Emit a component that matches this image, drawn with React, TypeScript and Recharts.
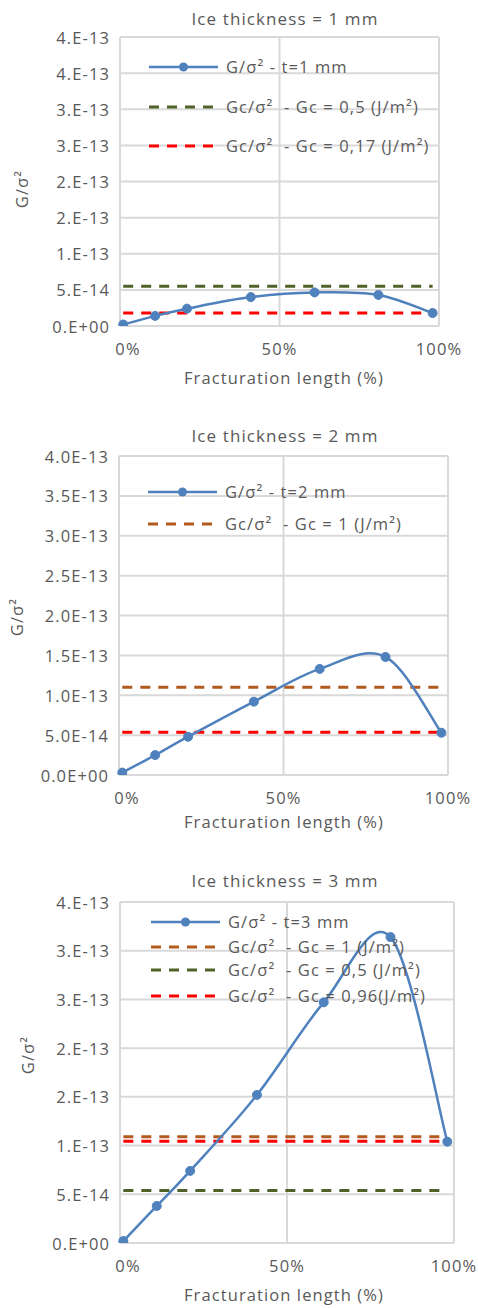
import React from "react"
import { LineChart, Line, XAxis, YAxis, CartesianGrid } from "recharts"

// fracture positions (% of length), shared by the three tests
const xs = [1, 11, 21, 41, 61, 81, 98]

// G/sigma^2 for each ice thickness
const g1mm = [2e-15, 1.4e-14, 2.4e-14, 4.0e-14, 4.65e-14, 4.3e-14, 1.8e-14]
const g2mm = [3e-15, 2.5e-14, 4.8e-14, 9.2e-14, 13.3e-14, 14.8e-14, 5.3e-14]
const g3mm = [2e-15, 3.8e-14, 7.4e-14, 15.2e-14, 24.7e-14, 31.4e-14, 10.4e-14]

// critical thresholds Gc/sigma^2
const gc1mm = [5.5e-14, 1.8e-14]
const gc2mm = [1.1e-13, 5.35e-14]
const gc3mm = [1.09e-13, 5.4e-14, 1.045e-13]

const xTicks = [0, 50, 100]
const xTickLabels = ["0%", "50%", "100%"]

const yTicks4 = [0, 5e-14, 1e-13, 1.5e-13, 2e-13, 2.5e-13, 3e-13, 3.5e-13, 4e-13]
const yTicks35 = [0, 5e-14, 1e-13, 1.5e-13, 2e-13, 2.5e-13, 3e-13, 3.5e-13]
const yLabels1 = ["0.E+00", "5.E-14", "1.E-13", "2.E-13", "2.E-13", "3.E-13", "3.E-13", "4.E-13", "4.E-13"]
const yLabels2 = ["0.0E+00", "5.0E-14", "1.0E-13", "1.5E-13", "2.0E-13", "2.5E-13", "3.0E-13", "3.5E-13", "4.0E-13"]
const yLabels3 = ["0.E+00", "5.E-14", "1.E-13", "2.E-13", "2.E-13", "3.E-13", "3.E-13", "4.E-13"]

const FONT = '"Open Sans", sans-serif'
const TEXT = "#595959"
const GRID = "#D9D9D9"
const BLUE = "#4F81BD"
const GREEN = "#4F6228"
const BROWN = "#B35A1F"
const RED = "#FF0000"
const FS = 16.5
const LS = 1.1

// Excel-like smoothing (Catmull-Rom through the points)
const excelSmooth = (context: any) => {
  let pts: number[][] = []
  return {
    areaStart() {},
    areaEnd() {},
    lineStart() {
      pts = []
    },
    lineEnd() {
      const n = pts.length
      if (!n) return
      context.moveTo(pts[0][0], pts[0][1])
      for (let i = 0; i < n - 1; i++) {
        const p0 = pts[Math.max(i - 1, 0)]
        const p1 = pts[i]
        const p2 = pts[i + 1]
        const p3 = pts[Math.min(i + 2, n - 1)]
        context.bezierCurveTo(
          p1[0] + (p2[0] - p0[0]) / 6, p1[1] + (p2[1] - p0[1]) / 6,
          p2[0] - (p3[0] - p1[0]) / 6, p2[1] - (p3[1] - p1[1]) / 6,
          p2[0], p2[1]
        )
      }
    },
    point(x: number, y: number) {
      pts.push([x, y])
    },
  }
}

interface Series {
  key: string
  name: string
  color: string
  dashed?: boolean
  inLegend?: boolean
}

const buildRows = (g: number[], gc: number[]) =>
  xs.map((x, i) => {
    const row: any = { x, g: g[i] }
    gc.forEach((v, j) => (row["gc" + j] = v))
    return row
  })

const XTick = (props: any) => {
  const { x, y, index } = props
  return (
    <text x={x + (index === 0 ? 8 : 0)} y={y + 22} textAnchor="middle" dominantBaseline="central"
      fontFamily={FONT} fontSize={FS} fill={TEXT} style={{ letterSpacing: LS }}>
      {xTickLabels[index]}
    </text>
  )
}

const makeYTick = (labels: string[]) => (props: any) => {
  const { x, y, index } = props
  return (
    <text x={x - 10} y={y} textAnchor="end" dominantBaseline="central"
      fontFamily={FONT} fontSize={FS} fill={TEXT} style={{ letterSpacing: LS }}>
      {labels[index]}
    </text>
  )
}

const textStyle: React.CSSProperties = {
  position: "absolute",
  fontFamily: FONT,
  fontSize: FS,
  letterSpacing: LS,
  color: TEXT,
  lineHeight: 1,
  whiteSpace: "pre",
}

function Panel({ top, height, plot, title, rows, series, yTicks, yLabels, yMax, legend, titleY, xTitleY, yTitle }: any) {
  const w = 478
  const legendItems = (series as Series[]).filter(s => s.inLegend)
  const drawOrder = [...(series as Series[]).filter(s => s.dashed), ...(series as Series[]).filter(s => !s.dashed)]
  return (
    <div style={{ position: "absolute", left: 0, top, width: w, height }}>
      <LineChart width={w} height={height} data={rows}
        margin={{ top: plot.top, right: w - plot.right, left: 0, bottom: 0 }}>
        <CartesianGrid stroke={GRID} strokeWidth={2} />
        <XAxis dataKey="x" type="number" domain={[0, 100]} ticks={xTicks} interval={0}
          height={height - plot.bottom} tickSize={0} tickMargin={0}
          axisLine={{ stroke: GRID, strokeWidth: 2 }} tick={<XTick />} />
        <YAxis type="number" domain={[0, yMax]} ticks={yTicks} interval={0} allowDataOverflow
          width={plot.left} tickSize={0} tickMargin={0}
          axisLine={{ stroke: GRID, strokeWidth: 2 }} tick={makeYTick(yLabels)} />
        {drawOrder.map(s =>
          s.dashed ? (
            <Line key={s.key} dataKey={s.key} name={s.name} type="linear" stroke={s.color}
              strokeWidth={3} strokeDasharray="10 8" dot={false} activeDot={false}
              isAnimationActive={false} />
          ) : (
            <Line key={s.key} dataKey={s.key} name={s.name} type={excelSmooth as any} stroke={s.color}
              strokeWidth={2.5} dot={{ r: 4.5, fill: s.color, stroke: s.color, strokeWidth: 1 }}
              activeDot={false} isAnimationActive={false} />
          )
        )}
      </LineChart>

      <div style={{ ...textStyle, left: 285, top: titleY, transform: "translate(-50%, -50%)", fontSize: FS + 0.5 }}>{title}</div>
      <div style={{ ...textStyle, left: 284, top: xTitleY, transform: "translate(-50%, -50%)" }}>Fracturation length (%)</div>
      <div style={{ ...textStyle, left: yTitle[0], top: yTitle[1], transform: "translate(-50%, -50%) rotate(-90deg)" }}>G/σ²</div>

      {legendItems.map((s, i) => {
        const y = legend.rows[i]
        return (
          <React.Fragment key={s.key}>
            <svg style={{ position: "absolute", left: legend.x0, top: y - 6 }} width={legend.x1 - legend.x0} height={12}>
              <line x1={0} y1={6} x2={legend.x1 - legend.x0} y2={6} stroke={s.color}
                strokeWidth={s.dashed ? 3 : 2.5} strokeDasharray={s.dashed ? "10 8" : undefined} />
              {!s.dashed && <circle cx={(legend.x1 - legend.x0) / 2} cy={6} r={4.5} fill={s.color} />}
            </svg>
            <div style={{ ...textStyle, left: legend.tx, top: y, transform: "translateY(-50%)" }}>{s.name}</div>
          </React.Fragment>
        )
      })}
    </div>
  )
}

const series1: Series[] = [
  { key: "g", name: "G/σ² - t=1 mm", color: BLUE, inLegend: true },
  { key: "gc0", name: "Gc/σ²  - Gc = 0,5 (J/m²)", color: GREEN, dashed: true, inLegend: true },
  { key: "gc1", name: "Gc/σ²  - Gc = 0,17 (J/m²)", color: RED, dashed: true, inLegend: true },
]
const series2: Series[] = [
  { key: "g", name: "G/σ² - t=2 mm", color: BLUE, inLegend: true },
  { key: "gc0", name: "Gc/σ²  - Gc = 1 (J/m²)", color: BROWN, dashed: true, inLegend: true },
  { key: "gc1", name: "Gc/σ²  - Gc = 0,5 (J/m²)", color: RED, dashed: true },
]
const series3: Series[] = [
  { key: "g", name: "G/σ² - t=3 mm", color: BLUE, inLegend: true },
  { key: "gc0", name: "Gc/σ²  - Gc = 1 (J/m²)", color: BROWN, dashed: true, inLegend: true },
  { key: "gc1", name: "Gc/σ²  - Gc = 0,5 (J/m²)", color: GREEN, dashed: true, inLegend: true },
  { key: "gc2", name: "Gc/σ²  - Gc = 0,96(J/m²)", color: RED, dashed: true, inLegend: true },
]

export default function App() {
  return (
    <div style={{ position: "absolute", left: 0, top: 0, width: 478, height: 1308, background: "#fff" }}>
      <Panel top={0} height={400} title="Ice thickness = 1 mm"
        plot={{ left: 120, right: 439, top: 37, bottom: 326 }}
        rows={buildRows(g1mm, gc1mm)} series={series1} yTicks={yTicks4} yLabels={yLabels1} yMax={4e-13}
        legend={{ x0: 149, x1: 218, tx: 226, rows: [67, 107, 146] }}
        titleY={18} xTitleY={378} yTitle={[22, 189]} />
      <Panel top={400} height={440} title="Ice thickness = 2 mm"
        plot={{ left: 119, right: 448, top: 56, bottom: 375 }}
        rows={buildRows(g2mm, gc2mm)} series={series2} yTicks={yTicks4} yLabels={yLabels2} yMax={4e-13}
        legend={{ x0: 148, x1: 217, tx: 225, rows: [92, 124] }}
        titleY={35} xTitleY={422} yTitle={[17, 217]} />
      <Panel top={840} height={468} title="Ice thickness = 3 mm"
        plot={{ left: 120, right: 454, top: 62, bottom: 403 }}
        rows={buildRows(g3mm, gc3mm)} series={series3} yTicks={yTicks35} yLabels={yLabels3} yMax={3.5e-13}
        legend={{ x0: 151, x1: 220, tx: 228, rows: [82, 107, 130, 156] }}
        titleY={40} xTitleY={455} yTitle={[28, 215]} />
    </div>
  )
}
